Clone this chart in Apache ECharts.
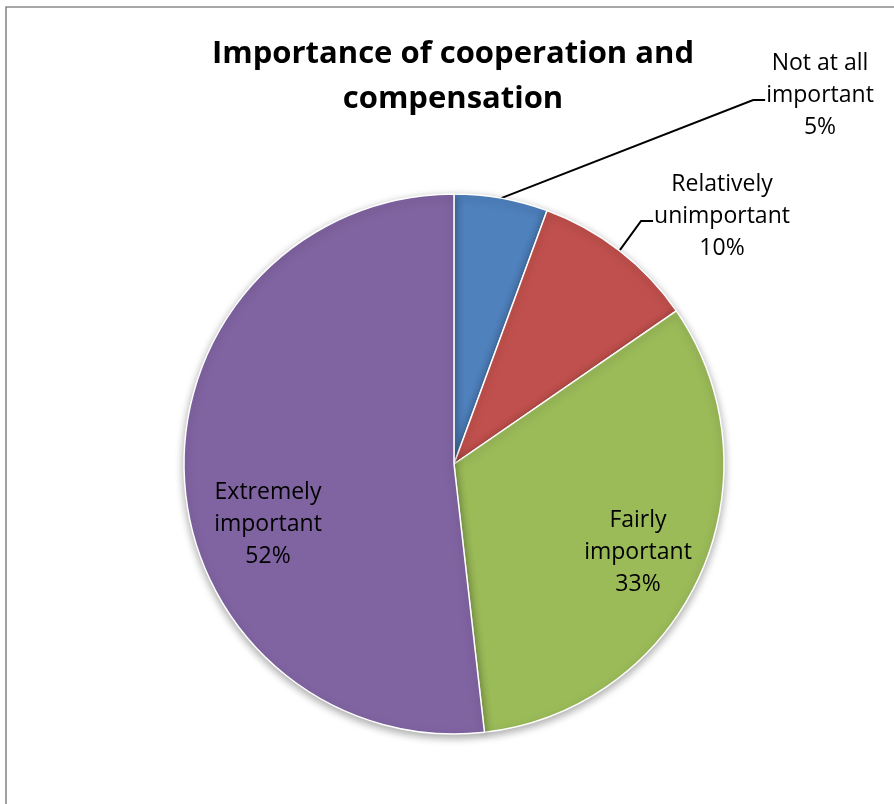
<!DOCTYPE html>
<html>
<head>
<meta charset="utf-8">
<script src="https://cdn.jsdelivr.net/npm/echarts@6/dist/echarts.min.js"></script>
<style>
html,body{margin:0;padding:0;background:#fff;}
#chart{width:894px;height:804px;}
</style>
</head>
<body>
<div id="chart"></div>
<script>
const titleText = 'Importance of cooperation and\ncompensation';
const categories = ['Not at all\nimportant', 'Relatively\nunimportant', 'Fairly\nimportant', 'Extremely\nimportant'];
const values = [5.6, 9.8, 32.8, 51.8];
const percentLabels = ['5%', '10%', '33%', '52%'];
const colors = ['#4F81BD', '#C0504D', '#9BBB59', '#8064A2'];
const outside = [true, true, false, false];
// label centres (layout)
const labelCenters = [[820, 95], [722, 216], [638, 552], [268, 524]];

const FONT = '"Open Sans", "Noto Sans", sans-serif';

const data = categories.map((c, i) => ({
  name: c,
  value: values[i],
  itemStyle: { color: colors[i] },
  label: { position: outside[i] ? 'outside' : 'inside' },
  labelLine: { show: outside[i] }
}));

const chart = echarts.init(document.getElementById('chart'), null, { renderer: 'canvas' });
chart.setOption({
  animation: false,
  graphic: [{
    type: 'rect',
    shape: { x: 6, y: 7, width: 1000, height: 1000 },
    style: { fill: 'none', stroke: '#8a8a8a', lineWidth: 1.6 },
    silent: true,
    z: -10
  }],
  title: {
    text: titleText,
    left: 453,
    top: 32,
    textAlign: 'center',
    padding: 0,
    textStyle: { fontFamily: FONT, fontWeight: 'bold', fontSize: 31, lineHeight: 45, color: '#000' }
  },
  series: [{
    type: 'pie',
    center: [454, 464],
    radius: 270,
    startAngle: 90,
    clockwise: true,
    avoidLabelOverlap: false,
    data: data,
    itemStyle: {
      borderColor: '#fff', borderWidth: 1.5,
      shadowBlur: 8, shadowColor: 'rgba(0,0,0,0.35)', shadowOffsetY: 3
    },
    label: {
      show: true,
      formatter: p => p.name + '\n' + percentLabels[p.dataIndex],
      fontFamily: FONT, fontSize: 23, lineHeight: 32, color: '#000',
      align: 'center'
    },
    labelLine: { show: true, length: 10, length2: 10, lineStyle: { color: '#000', width: 2 } },
    labelLayout: function (params) {
      const i = params.dataIndex;
      const c = labelCenters[i];
      const res = { x: c[0], y: c[1], align: 'center', verticalAlign: 'middle' };
      if (outside[i] && params.labelLinePoints) {
        const w = params.labelRect.width;
        const left = c[0] - w / 2;
        const start = params.labelLinePoints[0];
        const ly = c[1] + 5;
        const ex = left - 1;
        res.labelLinePoints = [start, [ex - 12, ly], [ex, ly]];
      }
      return res;
    }
  }]
});
</script>
</body>
</html>
